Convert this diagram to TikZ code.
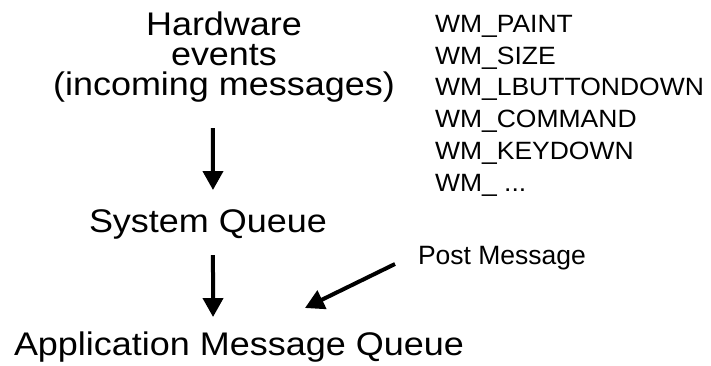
\documentclass[tikz,border=0pt]{standalone}
\usepackage{fontspec}
\usetikzlibrary{arrows.meta}
\newfontfamily\labelfont[FakeStretch=1.1]{Liberation Sans}
\newfontfamily\msgfont[FakeStretch=1.06]{Liberation Sans}
\newfontfamily\notefont{Liberation Sans}

\tikzset{
  big/.style={inner sep=0pt, outer sep=0pt, text height=23.4pt, text depth=0pt,
              font=\labelfont\fontsize{32.7}{32.7}\selectfont},
  msg/.style={inner sep=0pt, outer sep=0pt, anchor=base west,
              font=\msgfont\fontsize{25}{30}\selectfont},
  note/.style={inner sep=0pt, outer sep=0pt, anchor=base west,
               font=\notefont\fontsize{26.5}{30}\selectfont},
  flow/.style={line width=4pt, -{Triangle[length=19pt,width=20pt]}}
}

\begin{document}
\begin{tikzpicture}[x=1pt, y=-1pt]
  \useasboundingbox (0,0) rectangle (711,365);

  % source of the messages
  \node[big, anchor=base] (hw1) at (224,35) {Hardware};
  \node[big, anchor=base] (hw2) at (224,65) {events};
  \node[big, anchor=base] (hw3) at (224,95) {(incoming messages)};

  % queues
  \node[big, anchor=base west] (sys) at (89,232) {System Queue};
  \node[big, anchor=base west] (app) at (14,355) {Application Message Queue};

  % typical message identifiers
  \node[msg] (wm0) at (435, 32.3)  {WM\_PAINT};
  \node[msg] (wm1) at (435, 64.1)  {WM\_SIZE};
  \node[msg] (wm2) at (435, 95.9)  {WM\_LBUTTONDOWN};
  \node[msg] (wm3) at (435, 127.7) {WM\_COMMAND};
  \node[msg] (wm4) at (435, 159.5) {WM\_KEYDOWN};
  \node[msg] (wm5) at (435, 191.3) {WM\_ ...};

  \node[note] (post) at (418,264) {Post Message};

  % message flow
  \draw[flow, shorten <=33pt, shorten >=18.6pt]
    ([xshift=-11pt]hw3.south) -- ([xshift=5pt]sys.north);
  \draw[flow, shorten <=23pt, shorten >=14.6pt]
    ([xshift=5pt]sys.south) -- ([xshift=-25.9pt]app.north);
  \draw[flow]
    ([xshift=-23pt]post.base west) -- ([xshift=66pt, yshift=23.6pt]app.north);
\end{tikzpicture}
\end{document}
